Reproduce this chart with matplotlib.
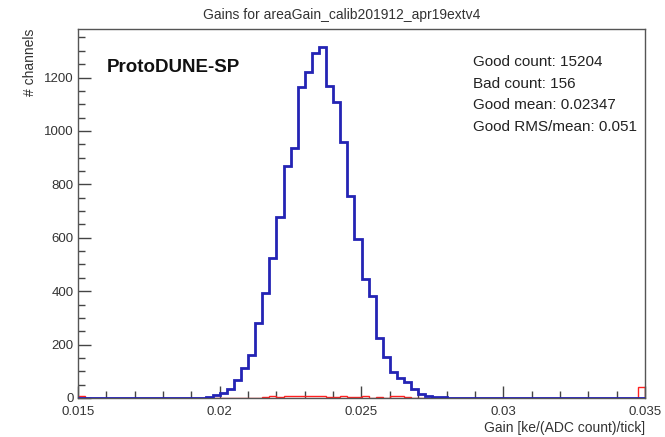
import numpy as np
import matplotlib
matplotlib.use('Agg')
import matplotlib.pyplot as plt
from matplotlib.ticker import MultipleLocator

# histogram binning: 80 bins from 0.015 to 0.035
x_lo, x_hi, n_bins = 0.015, 0.035, 80

# good channels, first non-zero bin starts at 0.0195 (bin 18)
good_first_bin = 18
good_counts = [5, 10, 20, 33, 67, 112, 160, 282, 393, 526, 676, 870, 936,
               1164, 1220, 1291, 1316, 1170, 1110, 960, 755, 597, 447, 382,
               224, 154, 99, 76, 60, 32, 14, 7, 2, 2]

# bad channels
bad_bins = [0, 26, 27, 28, 29, 30, 31, 32, 33, 34, 35, 36, 37, 38, 39, 40,
            42, 44, 45, 46, 79]
bad_vals = [7, 4, 6, 5, 7, 8, 8, 7, 6, 7, 5, 4, 6, 5, 3, 6, 5, 6, 7, 4, 40]

title = 'Gains for areaGain_calib201912_apr19extv4'
label_text = 'ProtoDUNE-SP'
stats_lines = ['Good count: 15204', 'Bad count: 156',
               'Good mean: 0.02347', 'Good RMS/mean: 0.051']


def FigParams():
    plt.rcParams['font.family'] = ['Liberation Sans', 'DejaVu Sans']
    plt.rcParams['font.size'] = 9
    plt.rcParams['xtick.direction'] = 'in'
    plt.rcParams['ytick.direction'] = 'in'
    plt.rcParams['axes.linewidth'] = 1.0


def main():
    FigParams()
    edges = np.linspace(x_lo, x_hi, n_bins + 1)
    good = np.zeros(n_bins)
    good[good_first_bin:good_first_bin + len(good_counts)] = good_counts
    bad = np.zeros(n_bins)
    bad[bad_bins] = bad_vals

    fig = plt.figure(figsize=(6.65, 4.37), dpi=100)
    ax = fig.add_axes([78 / 665, 1 - 398 / 437, 567 / 665, 369 / 437])

    ax.stairs(bad, edges, color='#ff2020', linewidth=1.0, baseline=0, zorder=2)
    ax.stairs(good, edges, color='#2424b4', linewidth=2.0, baseline=0, zorder=3)

    ax.set_xlim(x_lo, x_hi)
    ax.set_ylim(0, 1.05 * max(good))
    ax.xaxis.set_major_locator(MultipleLocator(0.005))
    ax.xaxis.set_minor_locator(MultipleLocator(0.001))
    ax.yaxis.set_major_locator(MultipleLocator(200))
    ax.yaxis.set_minor_locator(MultipleLocator(50))
    ax.xaxis.set_major_formatter(plt.FuncFormatter(lambda v, p: ('%g' % round(v, 4))))
    ax.tick_params(which='major', length=9, width=1, colors='#444444',
                   labelcolor='#333333', labelsize=9.5)
    ax.tick_params(axis='x', which='major', pad=6)
    ax.tick_params(axis='y', which='major', pad=3)
    ax.tick_params(which='minor', length=5, width=1, colors='#444444')
    for s in ax.spines.values():
        s.set_color('#555555')

    fig.text(342 / 665, 1 - 15 / 437, title, ha='center', va='center',
             fontsize=10, color='#333333')
    ax.set_xlabel('Gain [ke/(ADC count)/tick]', fontsize=10, color='#333333',
                  loc='right', labelpad=2)
    ax.set_ylabel('# channels', fontsize=10, color='#333333', loc='top',
                  labelpad=5)

    fig.text(107 / 665, 1 - 67 / 437, label_text, ha='left', va='center',
             fontsize=13.5, fontweight='bold', color='#111111')
    for i, line in enumerate(stats_lines):
        fig.text(473 / 665, 1 - (62 + 21.7 * i) / 437, line, ha='left',
                 va='center', fontsize=11, color='#222222')

    plt.savefig('out.png', dpi=100)


if __name__ == '__main__':
    main()
